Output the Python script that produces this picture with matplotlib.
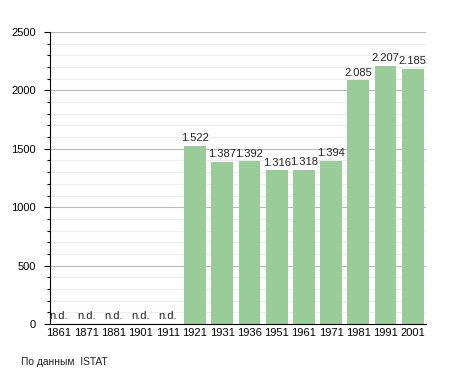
import matplotlib
matplotlib.use("Agg")
import matplotlib.pyplot as plt
from matplotlib.ticker import MultipleLocator

plt.rcParams['font.family'] = ['Liberation Sans', 'DejaVu Sans']

# Data: population by census year (None = no data)
years  = ['1861', '1871', '1881', '1901', '1911', '1921', '1931',
          '1936', '1951', '1961', '1971', '1981', '1991', '2001']
values = [None, None, None, None, None, 1522, 1387,
          1392, 1316, 1318, 1394, 2085, 2207, 2185]
labels = ['n.d.', 'n.d.', 'n.d.', 'n.d.', 'n.d.', '1.522', '1.387',
          '1.392', '1.316', '1.318', '1.394', '2.085', '2.207', '2.185']

BAR_COLOR = '#99cc99'
FS = 8

fig = plt.figure(figsize=(4.55, 3.73), dpi=100)
ax = fig.add_axes([50 / 455, 49 / 373, 376 / 455, 292 / 373])

x = list(range(len(years)))
heights = [v if v is not None else 0 for v in values]
ax.bar(x, heights, width=0.8, color=BAR_COLOR, zorder=2)

for xi, v, lab in zip(x, values, labels):
    y = v if v is not None else 0
    ax.annotate(lab, (xi, y), xytext=(0, 2), textcoords='offset points',
                ha='center', va='bottom', fontsize=FS, color='#222222')

ax.set_xlim(-0.33, 13.49)
ax.set_ylim(0, 2500)
ax.set_xticks(x)
ax.set_xticklabels(years)
ax.yaxis.set_major_locator(MultipleLocator(500))
ax.yaxis.set_minor_locator(MultipleLocator(100))

ax.grid(axis='y', which='major', color='#b8b8b8', linewidth=0.8, zorder=0)
ax.grid(axis='y', which='minor', color='#ececec', linewidth=0.8, zorder=0)
ax.set_axisbelow(True)

for s in ('top', 'right'):
    ax.spines[s].set_visible(False)
ax.spines['left'].set_linewidth(0.8)
ax.spines['bottom'].set_linewidth(0.8)

ax.tick_params(axis='x', length=0, pad=3, labelsize=FS)
ax.tick_params(axis='y', which='major', length=4, width=0.8, pad=6, labelsize=FS)
ax.tick_params(axis='y', which='minor', length=2.5, width=0.8)

fig.text(21 / 455, 1 - 362 / 373, 'По данным  ISTAT', fontsize=7.4,
         ha='left', va='center', color='#222222')

fig.savefig('out.png', dpi=100)
